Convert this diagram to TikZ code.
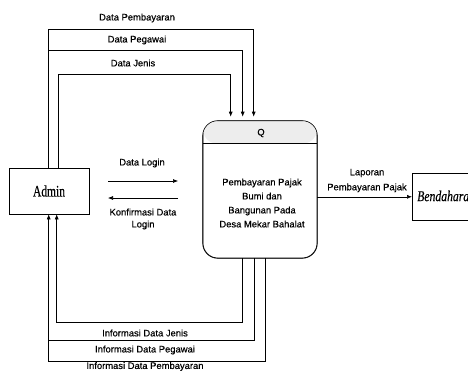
\documentclass[tikz,border=0pt]{standalone}
\usepackage{fontspec}
\setmainfont{Liberation Serif}
\setsansfont{Liberation Sans}
\newfontfamily\lblfont[FakeBold=0.35]{Liberation Sans}
\newfontfamily\entfont[FakeBold=0.35]{Liberation Serif}
\usetikzlibrary{arrows.meta,calc}
\tikzset{
  lbl/.style={font=\lblfont\fontsize{9.4}{13}\selectfont, inner sep=0pt, align=center},
  arr/.style={-{Latex[length=5pt,width=4pt]}, line width=0.6pt},
  ln/.style={line width=0.6pt},
  ent/.style={draw, line width=0.6pt, rectangle, inner sep=0pt},
}
\begin{document}
\begin{tikzpicture}[x=1pt,y=-1pt]
\useasboundingbox (0,0) rectangle (468,372);
\clip (0,0) rectangle (468,372);
\fill[white] (0,0) rectangle (468,372);
% entities
\node[ent, minimum width=80pt, minimum height=46pt] (admin) at (49,191) {};
\node (admint) at (admin.center) {\scalebox{0.72}[1]{\entfont\fontsize{16}{16}\selectfont Admin}};
\node[ent, minimum width=90pt, minimum height=47pt, anchor=north west] (bend) at (412,173) {};
\node[anchor=west, inner sep=0pt] (bendt) at (417,196) {\scalebox{0.78}[1]{\entfont\fontsize{15}{15}\selectfont\itshape Bendahara}};
% process
\node[draw, line width=0.6pt, rounded corners=15pt, minimum width=114pt, minimum height=137pt, inner sep=0pt] (proc) at (260,189.5) {};
\coordinate (hl) at ($(proc.north west)+(0,23)$);
\coordinate (hr) at ($(proc.north east)+(0,23)$);
\begin{scope}
\clip[rounded corners=15pt] (proc.north west) rectangle (hr);
\fill[gray!14] (proc.north west) rectangle (hr);
\end{scope}
\draw[line width=0.6pt, rounded corners=15pt] (proc.south west) rectangle (proc.north east);
\draw[ln] (hl) -- (hr);
\node[lbl] (q) at (261,133) {Q};
\node[lbl, font=\lblfont\fontsize{9.4}{14}\selectfont] (ptxt) at (262,203) {Pembayaran Pajak\\Bumi dan\\Bangunan Pada\\Desa Mekar Bahalat};
% top flows
\coordinate (aT1) at ($(admin.north west)+(40,0)$);
\coordinate (aT2) at ($(admin.north west)+(50,0)$);
\coordinate (tJ) at ($(proc.north west)+(28,-4)$);
\coordinate (tG) at ($(proc.north west)+(40,-4)$);
\coordinate (tP) at ($(proc.north west)+(51,-4)$);
\coordinate (yP) at (0,29);
\coordinate (yG) at (0,50.7);
\coordinate (yJ) at (0,74);
\draw[arr] (aT1) |- (tP |- yP) -- (tP);
\draw[arr] (aT1) |- (tG |- yG) -- (tG);
\draw[arr] (aT2) |- (tJ |- yJ) -- (tJ);
\node[lbl] (l1) at (137,18) {Data Pembayaran};
\node[lbl] (l2) at (137,40) {Data Pegawai};
\node[lbl] (l3) at (133,63) {Data Jenis};
% bottom flows
\coordinate (aB1) at ($(admin.south west)+(40,0)$);
\coordinate (aB2) at ($(admin.south west)+(48,0)$);
\coordinate (bJ) at ($(proc.south west)+(40,0)$);
\coordinate (bG) at ($(proc.south west)+(52,0)$);
\coordinate (bP) at ($(proc.south west)+(63,0)$);
\coordinate (zJ) at (0,322);
\coordinate (zG) at (0,340);
\coordinate (zP) at (0,361);
\draw[arr] (bP) |- (aB1 |- zP) -- (aB1);
\draw[ln] (bG) |- (aB1 |- zG);
\draw[arr] (bJ) |- (aB2 |- zJ) -- (aB2);
\node[lbl] (l4) at (145,333) {Informasi Data Jenis};
\node[lbl] (l5) at (145,350) {Informasi Data Pegawai};
\node[lbl] (l6) at (145,366.5) {Informasi Data Pembayaran};
% login
\coordinate (dl1) at (108,181);
\coordinate (dl2) at (178,181);
\coordinate (kf1) at (178,198);
\coordinate (kf2) at (108,198);
\draw[arr] (dl1) -- (dl2);
\draw[arr] (kf1) -- (kf2);
\node[lbl] (l7) at (142,163) {Data Login};
\node[lbl, font=\lblfont\fontsize{9.4}{12}\selectfont] (l8) at (143,219) {Konfirmasi Data\\Login};
% laporan
\draw[arr] (proc.east |- bend.west) -- (bend.west);
\node[lbl, font=\lblfont\fontsize{9.4}{15}\selectfont] (l9) at (367,180.5) {Laporan\\Pembayaran Pajak};
\end{tikzpicture}
\end{document}
